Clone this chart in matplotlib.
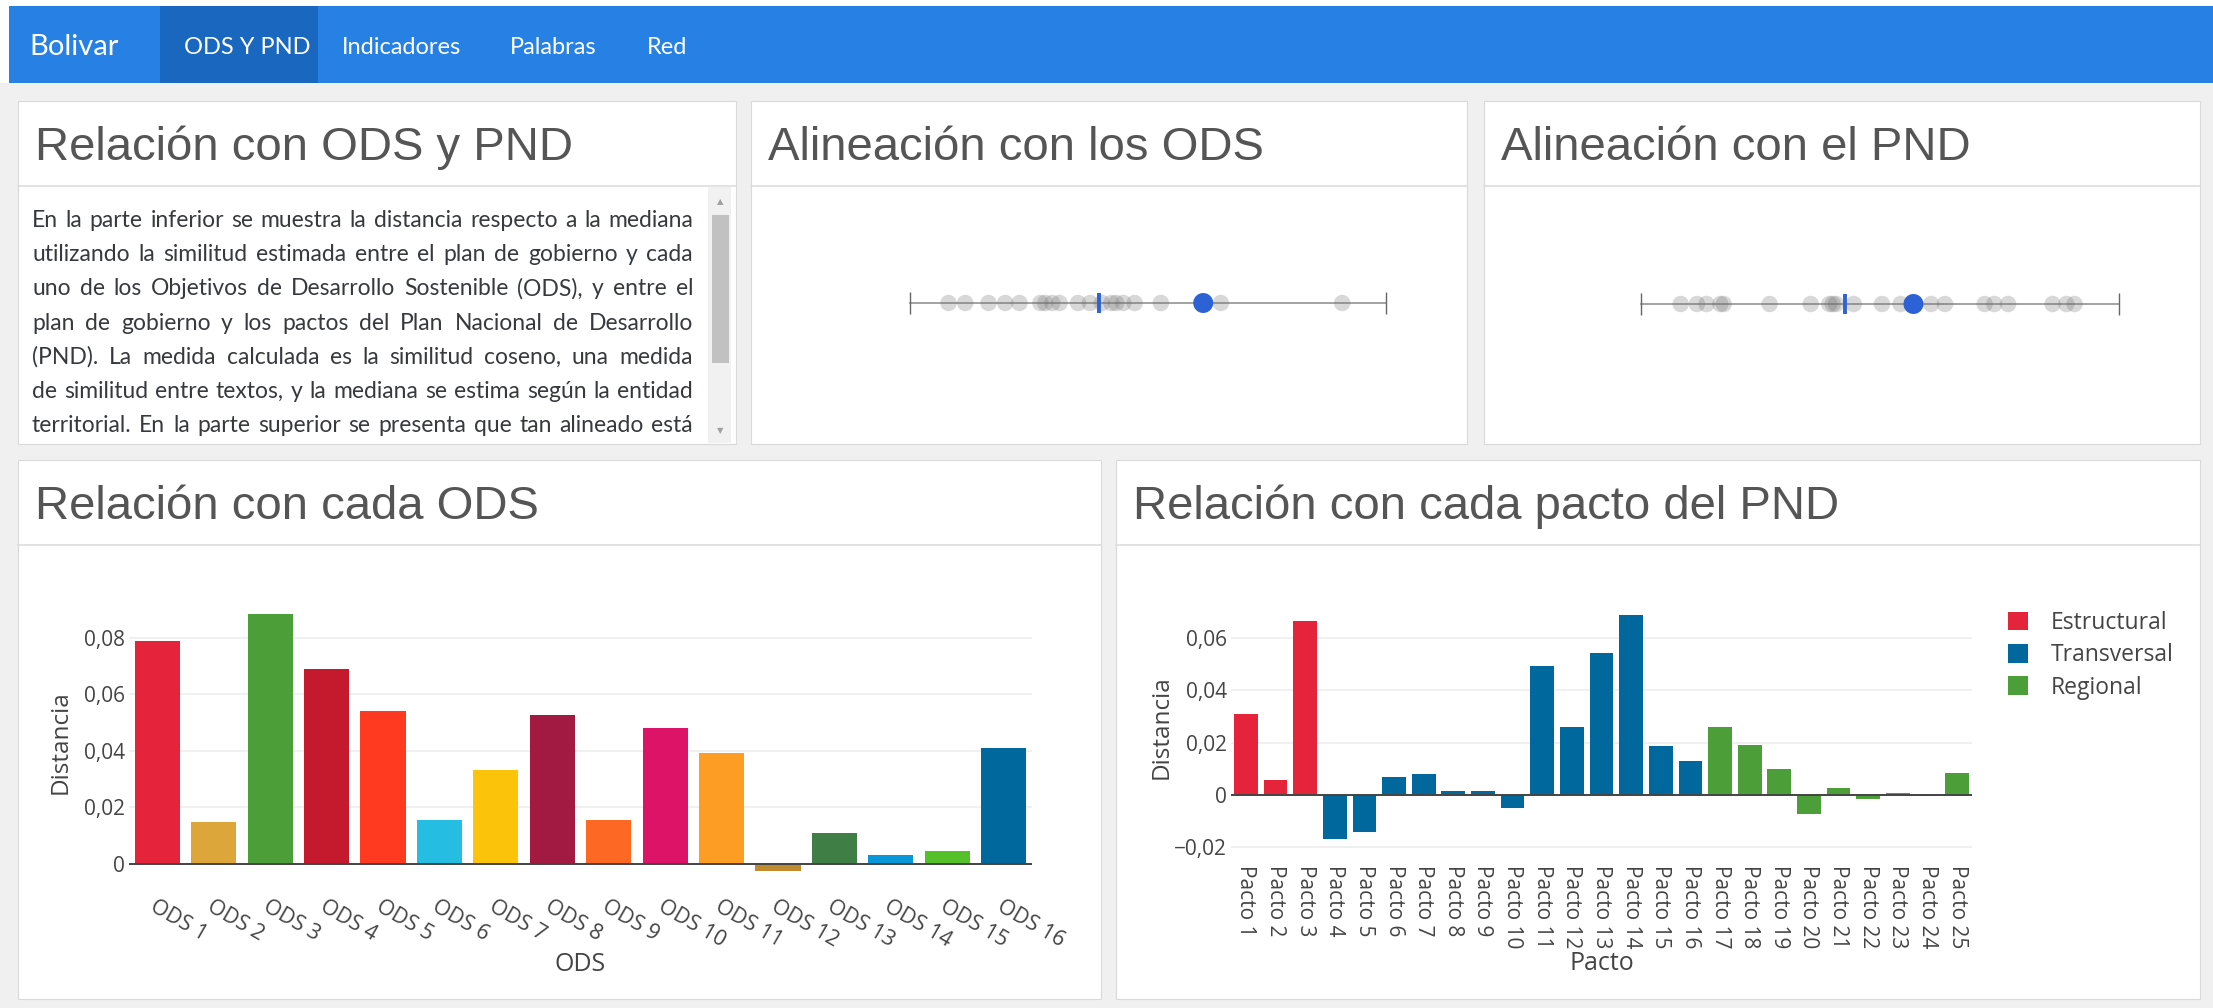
import matplotlib
matplotlib.use("Agg")
import matplotlib.pyplot as plt
from matplotlib.patches import Rectangle
from matplotlib.ticker import FuncFormatter
import numpy as np

W, H = 2213, 1008

# ---------------- data ----------------
nav_brand = "Bolivar"
nav_items = ["ODS Y PND", "Indicadores", "Palabras", "Red"]

panel_titles = ["Relación con ODS y PND", "Alineación con los ODS", "Alineación con el PND",
                "Relación con cada ODS", "Relación con cada pacto del PND"]

body_lines = [
    "En la parte inferior se muestra la distancia respecto a la mediana",
    "utilizando la similitud estimada entre el plan de gobierno y cada",
    "uno de los Objetivos de Desarrollo Sostenible (ODS), y entre el",
    "plan de gobierno y los pactos del Plan Nacional de Desarrollo",
    "(PND). La medida calculada es la similitud coseno, una medida",
    "de similitud entre textos, y la mediana se estima según la entidad",
    "territorial. En la parte superior se presenta que tan alineado está",
]

# alignment strips (position on a normalized min..max scale)
ods_align_range = [0.0, 1.0]
ods_align_others = [0.081, 0.116, 0.165, 0.200, 0.230, 0.274, 0.284, 0.299, 0.314, 0.353,
                    0.378, 0.403, 0.423, 0.433, 0.448, 0.472, 0.527, 0.653, 0.908]
ods_align_median = 0.398
ods_align_value = 0.616

pnd_align_range = [0.0, 1.0]
pnd_align_others = [0.083, 0.117, 0.137, 0.166, 0.173, 0.269, 0.355, 0.394, 0.401, 0.408,
                    0.445, 0.504, 0.543, 0.607, 0.636, 0.719, 0.739, 0.768, 0.861, 0.890, 0.907]
pnd_align_median = 0.426
pnd_align_value = 0.570

ods_labels = ["ODS 1", "ODS 2", "ODS 3", "ODS 4", "ODS 5", "ODS 6", "ODS 7", "ODS 8",
              "ODS 9", "ODS 10", "ODS 11", "ODS 12", "ODS 13", "ODS 14", "ODS 15", "ODS 16"]
ods_values = [0.0788, 0.0149, 0.0884, 0.0688, 0.0540, 0.0153, 0.0333, 0.0526,
              0.0156, 0.0481, 0.0392, -0.0026, 0.0109, 0.0029, 0.0045, 0.0411]
ods_colors = ["#E5243B", "#DDA63A", "#4C9F38", "#C5192D", "#FF3A21", "#26BDE2", "#FCC30B", "#A21942",
              "#FD6925", "#DD1367", "#FD9D24", "#BF8B2E", "#3F7E44", "#0A97D9", "#56C02B", "#00689D"]
ods_yticks = [0, 0.02, 0.04, 0.06, 0.08]

pacto_labels = ["Pacto 1", "Pacto 2", "Pacto 3", "Pacto 4", "Pacto 5", "Pacto 6", "Pacto 7",
                "Pacto 8", "Pacto 9", "Pacto 10", "Pacto 11", "Pacto 12", "Pacto 13", "Pacto 14",
                "Pacto 15", "Pacto 16", "Pacto 17", "Pacto 18", "Pacto 19", "Pacto 20", "Pacto 21",
                "Pacto 22", "Pacto 23", "Pacto 24", "Pacto 25"]
pacto_values = [0.0311, 0.0055, 0.0664, -0.0170, -0.0141, 0.0067, 0.0081, 0.0013, 0.0013,
                -0.0050, 0.0493, 0.0260, 0.0543, 0.0687, 0.0185, 0.0131, 0.0258, 0.0191,
                0.0099, -0.0075, 0.0025, -0.0015, 0.0008, -0.0006, 0.0084]
pacto_groups = ["Estructural"] * 3 + ["Transversal"] * 13 + ["Regional"] * 9
group_names = ["Estructural", "Transversal", "Regional"]
group_colors = ["#E5243B", "#00689D", "#4C9F38"]
pnd_yticks = [-0.02, 0, 0.02, 0.04, 0.06]

# ---------------- figure ----------------
PAGE = "#f0f0f0"
NAV = "#2780e3"
NAV_ACTIVE = "#1a67bf"
BLUE = "#2c62d6"
TXT = "#444444"

fig = plt.figure(figsize=(W / 100, H / 100), dpi=100, facecolor=PAGE)
bg = fig.add_axes([0, 0, 1, 1])
bg.set_xlim(0, W)
bg.set_ylim(H, 0)
bg.axis("off")


def frac(x0, y0, x1, y1):
    return [x0 / W, 1 - y1 / H, (x1 - x0) / W, (y1 - y0) / H]


def rect(x0, y0, x1, y1, fc, ec="none", lw=0, z=1):
    bg.add_patch(Rectangle((x0, y0), x1 - x0, y1 - y0, facecolor=fc, edgecolor=ec,
                           linewidth=lw, zorder=z))


# navbar
rect(0, 0, W, 6, "white")
rect(0, 0, 9, 83, "white")
rect(9, 6, W, 83, NAV)
rect(160, 6, 318, 83, NAV_ACTIVE, z=2)
bg.text(29, 55, nav_brand, color="white", fontsize=21, family="Lato", va="baseline", zorder=3)
for lbl, x in zip(nav_items, [184, 342, 510, 647]):
    bg.text(x, 53.5, lbl, color="white", fontsize=17, family="Lato", va="baseline", zorder=3)

# panels
panels = [(18, 101, 736, 444, 186), (751, 101, 1467, 444, 186), (1484, 101, 2200, 444, 186),
          (18, 460, 1101, 999, 545), (1116, 460, 2200, 999, 545)]
title_base = [160, 160, 160, 519, 519]
for (x0, y0, x1, y1, hy), t, tb in zip(panels, panel_titles, title_base):
    rect(x0, y0, x1, y1, "white", ec="#d9d9d9", lw=0.8)
    bg.plot([x0, x1], [hy, hy], color="#dddddd", lw=1.2, zorder=2)
    bg.text(x0 + 17, tb, t, fontsize=34, family="Liberation Sans", color="#555555",
            va="baseline", zorder=3)

# scrollbar
rect(708, 187, 731, 443, "#f1f1f1", z=2)
rect(712, 215, 729, 363, "#c1c1c1", z=3)
bg.text(720, 202, "▲", fontsize=6, color="#a0a0a0", ha="center", va="center", zorder=3)
bg.text(720, 431, "▼", fontsize=6, color="#a0a0a0", ha="center", va="center", zorder=3)

# justified body text
r = fig.canvas.get_renderer()
X0, X1 = 32, 693
base = 16.5


def wwidth(s, size):
    t = bg.text(0, 0, s, fontsize=size, family="Lato")
    w = t.get_window_extent(r).width
    t.remove()
    return w


need = 1.0
for line in body_lines:
    words = line.split()
    tot = sum(wwidth(w, base) for w in words) + (len(words) - 1) * 0.18 * base * 100 / 72
    need = min(need, (X1 - X0) / tot)
size = base * need
for i, line in enumerate(body_lines):
    words = line.split()
    y = 227 + 34.2 * i
    ts = [bg.text(0, y, w, fontsize=size, family="Lato", color="#373a3c", va="baseline", zorder=3)
          for w in words]
    ws = [t.get_window_extent(r).width for t in ts]
    gap = (X1 - X0 - sum(ws)) / (len(words) - 1)
    x = X0
    for t, w in zip(ts, ws):
        t.set_x(x)
        x += w + gap


# alignment strips
def strip(box, rng, others, med, val):
    a = fig.add_axes(frac(*box))
    a.set_xlim(rng[0], rng[1])
    a.set_ylim(-1, 1)
    a.axis("off")
    a.plot(rng, [0, 0], color="#8a8a8a", lw=1.1, clip_on=False, zorder=1)
    a.vlines(rng, -0.53, 0.53, color="#666666", lw=1.0, clip_on=False, zorder=1)
    a.scatter(others, np.zeros(len(others)), s=141, color="#707070", alpha=0.27,
              edgecolors="none", clip_on=False, zorder=2)
    a.vlines([med], -0.5, 0.5, color=BLUE, lw=2.8, zorder=3)
    a.scatter([val], [0], s=207, color=BLUE, edgecolors="none", zorder=4, clip_on=False)


strip((910, 283, 1386, 323), ods_align_range, ods_align_others, ods_align_median, ods_align_value)
strip((1641, 284, 2119, 324), pnd_align_range, pnd_align_others, pnd_align_median, pnd_align_value)


def fmt(v, _):
    if abs(v) < 1e-12:
        return "0"
    return f"{v:.2f}".replace(".", ",").replace("-", "\u2212")


def style(ax):
    for s in ax.spines.values():
        s.set_visible(False)
    ax.set_facecolor("none")
    ax.set_axisbelow(True)
    ax.grid(axis="y", color="#eeeeee", lw=1.2)
    ax.axhline(0, color="#444444", lw=1.4, zorder=4)
    ax.yaxis.set_major_formatter(FuncFormatter(fmt))
    ax.tick_params(length=0, labelsize=15, labelcolor=TXT)
    for lab in ax.get_xticklabels() + ax.get_yticklabels():
        lab.set_family("Open Sans")


# ODS bars
ax1 = fig.add_axes(frac(129, 601, 1032, 884))
x1 = np.arange(len(ods_values))
ax1.bar(x1, ods_values, width=0.8, color=ods_colors, zorder=3)
ax1.set_xlim(-0.5, len(ods_values) - 0.5)
ax1.set_ylim(-0.0072, 0.093)
ax1.set_yticks(ods_yticks)
ax1.set_xticks(x1, ods_labels, rotation=-30, ha="left", va="top", rotation_mode="anchor")
style(ax1)
ax1.tick_params(axis="x", pad=9, labelsize=15.5)
ax1.tick_params(axis="y", pad=3)
ax1.set_ylabel("Distancia", fontsize=17.5, color=TXT, family="Open Sans", va="center")
ax1.yaxis.set_label_coords(-0.0753, 0.5)
ax1.set_xlabel("ODS", fontsize=18, color=TXT, family="Open Sans")
ax1.xaxis.set_label_coords(0.5, -0.283)
ax1.xaxis.label.set_va("center")

# PND bars
ax2 = fig.add_axes(frac(1231, 604, 1972, 851))
x2 = np.arange(len(pacto_values))
vals = np.array(pacto_values)
grp = np.array(pacto_groups)
handles = []
for g, c in zip(group_names, group_colors):
    m = grp == g
    handles.append(ax2.bar(x2[m], vals[m], width=0.8, color=c, zorder=3, label=g))
ax2.set_xlim(-0.5, len(pacto_values) - 0.5)
ax2.set_ylim(-0.0215, 0.073)
ax2.set_yticks(pnd_yticks)
ax2.set_xticks(x2, pacto_labels, rotation=-90, ha="left", va="center", rotation_mode="anchor")
style(ax2)
ax2.tick_params(axis="x", pad=10)
ax2.tick_params(axis="y", pad=3)
ax2.set_ylabel("Distancia", fontsize=17.5, color=TXT, family="Open Sans", va="center")
ax2.yaxis.set_label_coords(-0.093, 0.5)
ax2.set_xlabel("Pacto", fontsize=18, color=TXT, family="Open Sans")
ax2.xaxis.set_label_coords(0.5, -0.457)
ax2.xaxis.label.set_va("center")
leg = ax2.legend(handles, group_names, loc="upper left", bbox_to_anchor=(2008 / W, 1 - 611 / H),
                 bbox_transform=fig.transFigure, frameon=False,
                 handlelength=0.87, handleheight=0.87, handletextpad=1.0, labelspacing=0.36,
                 borderpad=0, borderaxespad=0, labelcolor=TXT,
                 prop={"family": "Open Sans", "size": 16.5})

fig.savefig("out.png", dpi=100, facecolor=PAGE)
